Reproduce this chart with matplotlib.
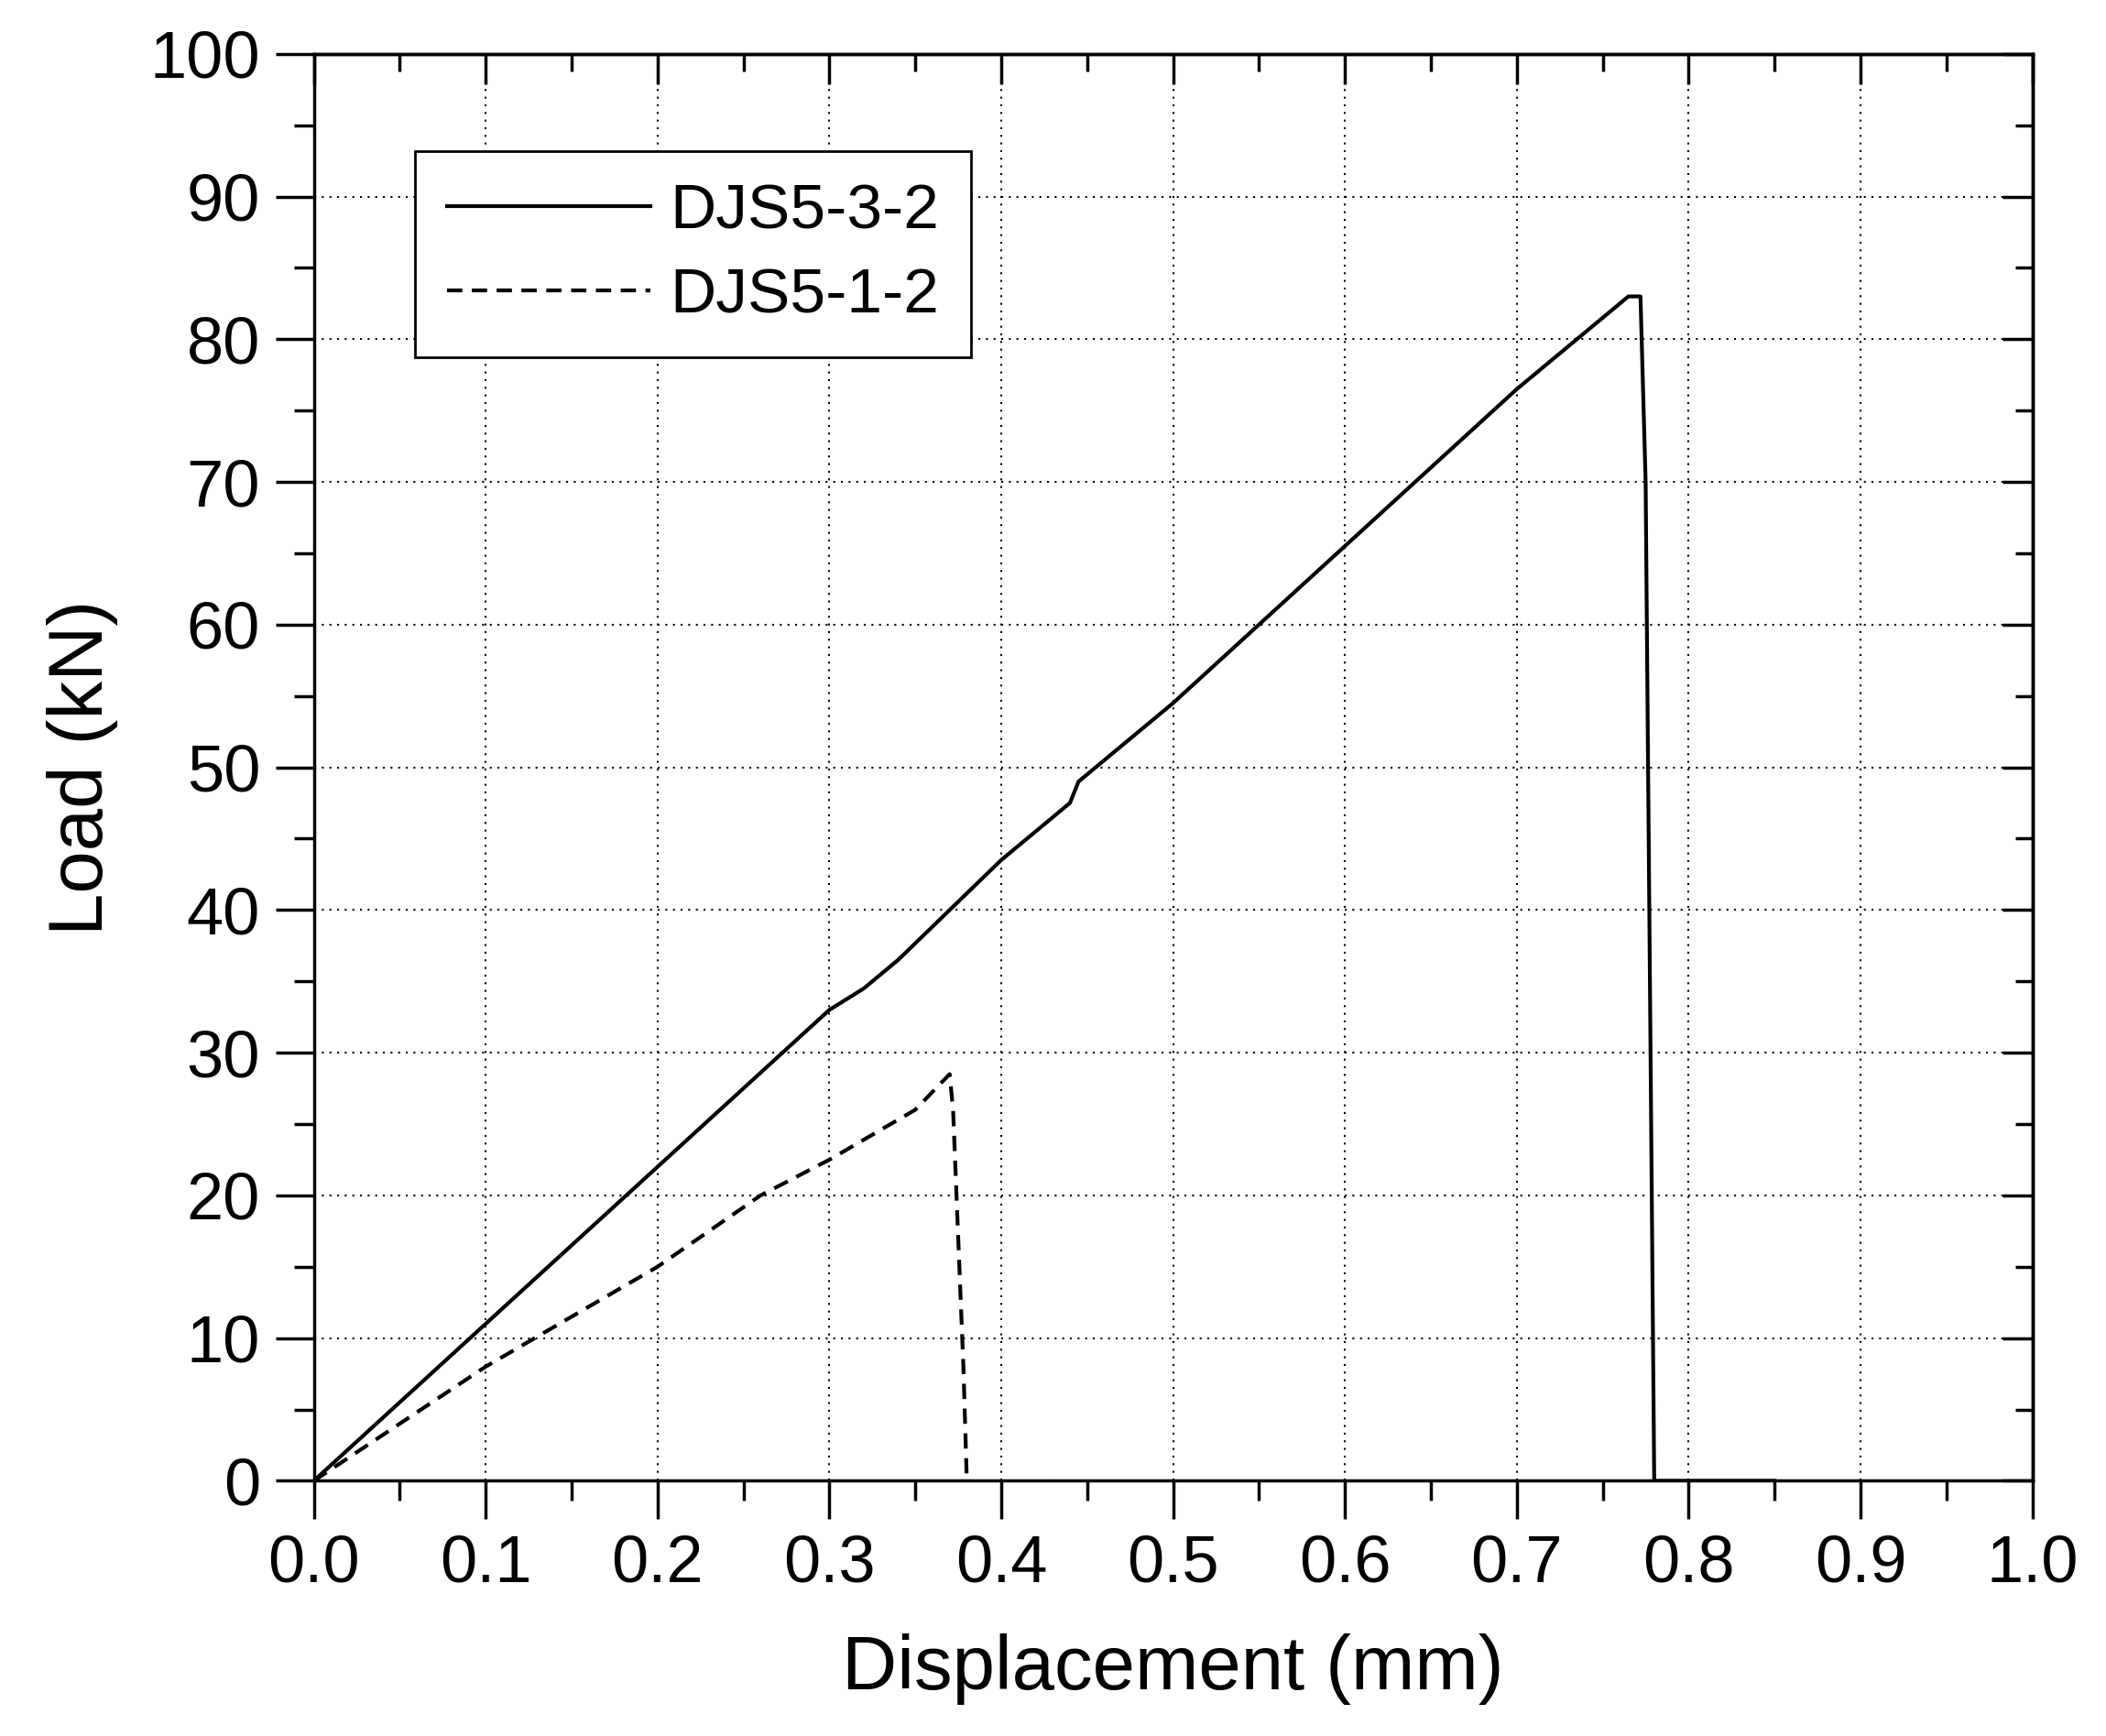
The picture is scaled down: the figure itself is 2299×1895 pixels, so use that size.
import matplotlib
matplotlib.use('Agg')
from matplotlib import pyplot as plt
from matplotlib.ticker import MultipleLocator

plt.rcParams['font.family'] = ['Liberation Sans', 'DejaVu Sans']

# DJS5-3-2 (solid)
disp_a = [0.0, 0.05, 0.1, 0.2, 0.3, 0.32, 0.34, 0.4, 0.44, 0.445, 0.5, 0.6, 0.7, 0.75,
          0.765, 0.772, 0.775, 0.78, 0.85]
load_a = [0.0, 5.5, 11.0, 22.0, 33.0, 34.5, 36.5, 43.5, 47.5, 49.0, 54.5, 65.5, 76.5, 81.5,
          83.0, 83.0, 70.0, 0.0, 0.0]
# DJS5-1-2 (dashed)
disp_b = [0.0, 0.05, 0.1, 0.2, 0.26, 0.3, 0.35, 0.37, 0.372, 0.374, 0.378, 0.38]
load_b = [0.0, 4.0, 8.0, 15.0, 20.0, 22.5, 26.0, 28.5, 26.0, 20.0, 8.0, 0.0]

fig = plt.figure(figsize=(22.99, 18.95), dpi=100)
ax = fig.add_axes([0.149, 0.147, 0.816, 0.822])

ax.plot(disp_a, load_a, color='black', linewidth=3, linestyle='-', label='DJS5-3-2')
ax.plot(disp_b, load_b, color='black', linewidth=3, linestyle=(0, (4, 2.5)), label='DJS5-1-2')

ax.set_xlim(0, 1.0)
ax.set_ylim(0, 100)
ax.xaxis.set_major_locator(MultipleLocator(0.1))
ax.xaxis.set_minor_locator(MultipleLocator(0.05))
ax.yaxis.set_major_locator(MultipleLocator(10))
ax.yaxis.set_minor_locator(MultipleLocator(5))
ax.set_xticklabels([f'{v:.1f}' for v in ax.get_xticks()])

ax.grid(True, which='major', linestyle=(0, (1, 3)), color='black', linewidth=1.5)
ax.tick_params(which='both', direction='out', labelsize=52, width=2.5, top=False, right=False)
ax.tick_params(which='major', length=30, pad=12)
ax.tick_params(which='minor', length=16)
# inward ticks on top and right
sec_x = ax.secondary_xaxis('top')
sec_x.xaxis.set_major_locator(MultipleLocator(0.1))
sec_x.xaxis.set_minor_locator(MultipleLocator(0.05))
sec_x.tick_params(which='both', direction='in', labeltop=False, width=2.5)
sec_x.tick_params(which='major', length=24)
sec_x.tick_params(which='minor', length=14)
sec_y = ax.secondary_yaxis('right')
sec_y.yaxis.set_major_locator(MultipleLocator(10))
sec_y.yaxis.set_minor_locator(MultipleLocator(5))
sec_y.tick_params(which='both', direction='in', labelright=False, width=2.5)
sec_y.tick_params(which='major', length=24)
sec_y.tick_params(which='minor', length=14)
for s in list(ax.spines.values()) + [sec_x.spines['top'], sec_y.spines['right']]:
    s.set_linewidth(2.5)

ax.set_xlabel('Displacement (mm)', fontsize=60, labelpad=30)
ax.set_ylabel('Load (kN)', fontsize=60, labelpad=25)

leg = ax.legend(loc='upper left', bbox_to_anchor=(0.059, 0.932), borderaxespad=0,
                fontsize=50, fancybox=False, framealpha=1, edgecolor='black',
                handlelength=3.2, handletextpad=0.3, borderpad=0.5, labelspacing=0.4)
leg.get_frame().set_linewidth(2)

fig.savefig('out.png', dpi=100)
